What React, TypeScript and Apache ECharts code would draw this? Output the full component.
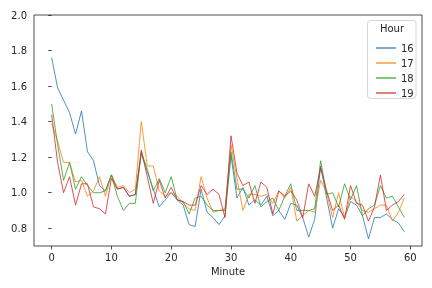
import React, { useEffect, useRef } from "react";
import * as echarts from "echarts";

const minutes: number[] = Array.from({ length: 60 }, (_, i) => i);
const hours = ["16", "17", "18", "19"];

const h16 = [1.76,1.59,1.52,1.45,1.33,1.46,1.23,1.18,1.04,1.01, 1.10,1.02,1.03,0.98,0.99,1.22,1.12,1.02,0.92,0.96, 1.00,0.96,0.93,0.82,0.81,1.02,0.89,0.86,0.82,0.87, 1.21,0.97,1.03,0.93,0.96,0.93,0.98,0.87,0.90,0.85, 0.94,0.93,0.86,0.75,0.85,1.15,0.97,0.80,0.91,0.86, 0.95,0.93,0.87,0.74,0.86,0.86,0.88,0.85,0.83,0.78];
const h17 = [1.39,1.29,1.17,1.17,1.06,1.07,0.98,1.01,1.09,0.98, 1.10,1.03,1.04,1.00,1.02,1.40,1.15,1.15,1.01,0.98, 1.00,0.98,0.94,0.91,0.90,1.09,0.97,0.89,0.90,0.91, 1.27,1.08,0.90,0.99,0.99,0.98,0.99,0.94,1.01,0.97, 1.03,0.84,0.87,0.90,0.89,1.07,1.00,0.86,1.00,0.86, 0.98,0.95,0.90,0.89,0.91,0.93,0.93,0.84,0.89,0.97];
const h18 = [1.50,1.27,1.07,1.17,1.02,1.09,1.04,1.00,1.00,1.01, 1.10,0.98,0.90,0.94,0.94,1.23,1.13,1.01,1.08,1.00, 1.09,0.96,0.95,0.88,0.97,0.98,0.93,0.90,0.90,0.90, 1.23,1.02,1.02,0.97,1.04,0.92,0.95,0.97,0.90,0.98, 1.05,0.90,0.90,0.90,0.91,1.18,0.99,1.00,0.92,1.05, 0.96,1.04,0.87,0.91,0.93,1.04,0.97,0.98,0.92,0.86];
const h19 = [1.44,1.17,1.00,1.09,0.93,1.05,1.05,0.92,0.91,0.88, 1.08,1.02,1.03,0.98,0.99,1.24,1.09,0.94,1.07,0.97, 1.03,0.96,0.95,0.93,0.93,1.04,0.99,1.02,0.99,0.86, 1.32,1.11,1.04,1.06,0.94,1.06,1.03,0.88,1.01,0.98, 1.01,0.96,0.86,1.05,0.98,1.14,1.01,0.90,0.93,0.85, 1.04,0.94,0.93,0.84,0.92,1.10,0.90,0.93,0.95,0.99];

const xTicks = [0, 10, 20, 30, 40, 50, 60];
const yTicks = [0.8, 1.0, 1.2, 1.4, 1.6, 1.8, 2.0];
const colors = ["#1f77b4", "#ff7f0e", "#2ca02c", "#d62728"];

const FONT = "DejaVu Sans";
const TXT = "#262626";

export default function App() {
  const ref = useRef<HTMLDivElement>(null);
  useEffect(() => {
    if (!ref.current) return;
    const chart = echarts.init(ref.current, undefined, { renderer: "svg" });
    const seriesData = [h16, h17, h18, h19];
    chart.setOption({
      animation: false,
      textStyle: { fontFamily: FONT },
      grid: { left: 34, right: 10, top: 15, bottom: 42, containLabel: false, show: true, borderColor: "#222", borderWidth: 0.8, backgroundColor: "transparent" },
      xAxis: {
        type: "value",
        min: -2.95,
        max: 61.95,
        name: "Minute",
        nameLocation: "middle",
        nameGap: 20,
        nameTextStyle: { fontFamily: FONT, fontSize: 10, color: TXT },
        splitLine: { show: false },
        axisLine: { show: false },
        axisTick: { show: true, length: 3.5, lineStyle: { color: "#222", width: 0.8 }, customValues: xTicks },
        axisLabel: { fontFamily: FONT, fontSize: 10, color: TXT, margin: 6, customValues: xTicks },
      },
      yAxis: {
        type: "value",
        min: 0.7,
        max: 2.0,
        splitLine: { show: false },
        axisLine: { show: false },
        axisTick: { show: true, length: 3.5, lineStyle: { color: "#222", width: 0.8 }, customValues: yTicks },
        axisLabel: { fontFamily: FONT, fontSize: 10, color: TXT, margin: 7, customValues: yTicks, formatter: (v: number) => v.toFixed(1) },
      },
      legend: {
        orient: "vertical",
        left: 371,
        top: 37,
        itemWidth: 20,
        itemHeight: 1.2,
        itemGap: 3,
        icon: "rect",
        z: 20,
        textStyle: { fontFamily: FONT, fontSize: 10, color: TXT, lineHeight: 12 },
        data: hours,
      },
      graphic: [
        { type: "rect", shape: { x: 367.5, y: 20.5, width: 48.5, height: 78, r: 3 }, style: { fill: "rgba(255,255,255,0.8)", stroke: "#cccccc", lineWidth: 0.8 }, z: 10 },
        { type: "text", x: 392, y: 28.5, style: { text: "Hour", fontFamily: FONT, fontSize: 10, fill: TXT, align: "center", verticalAlign: "middle" }, z: 11 },
      ],
      series: hours.map((h, i) => ({
        name: h,
        type: "line",
        data: minutes.map((m, j) => [m, seriesData[i][j]]),
        showSymbol: false,
        symbol: "none",
        color: colors[i],
        lineStyle: { width: 0.8, color: colors[i] },
      })),
    });
    return () => chart.dispose();
  }, []);
  return <div ref={ref} style={{ position: "fixed", left: 0, top: 0, width: 432, height: 288 }} />;
}
